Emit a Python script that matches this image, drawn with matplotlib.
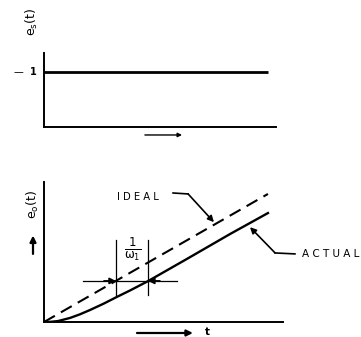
import numpy as np
from matplotlib import pyplot as plt

plt.rcParams['font.family'] = 'DejaVu Sans'
plt.rcParams['mathtext.default'] = 'regular'
plt.rcParams['lines.scale_dashes'] = False

# input step e_s(t)
step_t = [0, 9.66]
step_e = [1, 1]

# output e_o(t): ideal ramp and the lagging actual response
ideal_t = [0, 9.37]
ideal_e = [0, 5.36]
actual_t = [0, 0.3, 0.59, 1.09, 1.5, 1.92, 2.5, 3.05, 3.6, 4.35, 5.98, 7.78, 9.37]
actual_e = [0, 0.01, 0.04, 0.17, 0.32, 0.50, 0.77, 1.05, 1.32, 1.71, 2.64, 3.68, 4.56]

# time lag 1/w1 between the two curves
lag_level = 1.72
lag_t0 = 3.01
lag_t1 = 4.35

W, H = 361, 337
fig = plt.figure(figsize=(W / 100, H / 100), dpi=100)


def box(x0, y0, x1, y1):
    # pixel box (top-left origin) -> figure fraction
    return [x0 / W, 1 - y1 / H, (x1 - x0) / W, (y1 - y0) / H]


def bare(ax):
    for s in ['top', 'right']:
        ax.spines[s].set_visible(False)
    for s in ['left', 'bottom']:
        ax.spines[s].set_linewidth(1.4)
    ax.set_xticks([])
    ax.set_yticks([])
    ax.patch.set_alpha(0)


arw = dict(arrowstyle='-|>', color='k', lw=1.2, mutation_scale=9,
           shrinkA=0, shrinkB=0)

# ---- top: step input
ax1 = fig.add_axes(box(44, 53, 276, 127))
bare(ax1)
ax1.set_xlim(0, 10)
ax1.set_ylim(0, 1.345)
ax1.plot(step_t, step_e, color='k', lw=2.0, solid_capstyle='butt')
ax1.text(-0.52, 1.91, '$e_s(t)$', rotation=90, ha='center', va='center',
         fontsize=9, clip_on=False)
ax1.text(-1.12, 1.0, '\u2014', ha='center', va='center', fontsize=7)
ax1.text(-0.47, 1.0, '1', ha='center', va='center', fontsize=7,
         fontweight='bold')
ax1.annotate('', xy=(5.95, -0.145), xytext=(4.35, -0.145),
             xycoords='data', annotation_clip=False,
             arrowprops=dict(arw, lw=1.0, mutation_scale=6))

# ---- bottom: ramp output
ax2 = fig.add_axes(box(44, 182, 283, 322))
bare(ax2)
ax2.set_xlim(0, 10)
ax2.set_ylim(0, 5.86)
ax2.plot(ideal_t, ideal_e, color='k', lw=1.5, dashes=(9, 5))
ax2.plot(actual_t, actual_e, color='k', lw=1.7)

# lag markers
ax2.plot([1.63, 5.56], [lag_level, lag_level], color='k', lw=0.9)
ax2.plot([lag_t0, lag_t0], [1.13, 3.43], color='k', lw=0.9)
ax2.plot([lag_t1, lag_t1], [1.13, 3.43], color='k', lw=0.9)
ax2.annotate('', xy=(lag_t0, lag_level), xytext=(lag_t0 - 0.5, lag_level),
             arrowprops=arw)
ax2.annotate('', xy=(lag_t1, lag_level), xytext=(lag_t1 + 0.5, lag_level),
             arrowprops=arw)
ax2.text((lag_t0 + lag_t1) / 2 + 0.05, 3.05, r'$\frac{1}{\omega_1}$',
         ha='center', va='center', fontsize=12)

# curve labels
ax2.text(3.05, 5.23, 'I D E A L', ha='left', va='center', fontsize=7.2)
ax2.plot([5.40, 6.03], [5.40, 5.36], color='k', lw=1.2, clip_on=False)
ax2.annotate('', xy=(7.11, 4.18), xytext=(6.03, 5.36), arrowprops=arw,
             annotation_clip=False)
ax2.text(10.79, 2.85, 'A C T U A L', ha='left', va='center', fontsize=7.5,
         clip_on=False)
ax2.plot([10.50, 9.67], [2.85, 2.89], color='k', lw=1.2, clip_on=False)
ax2.annotate('', xy=(8.62, 3.97), xytext=(9.67, 2.89), arrowprops=arw,
             annotation_clip=False)

# axis labels
ax2.text(-0.46, 4.90, '$e_o(t)$', rotation=90, ha='center', va='center',
         fontsize=9, clip_on=False)
ax2.annotate('', xy=(-0.46, 3.62), xytext=(-0.46, 2.85),
             annotation_clip=False, arrowprops=dict(arw, lw=1.6))
ax2.annotate('', xy=(6.23, -0.46), xytext=(3.89, -0.46),
             annotation_clip=False, arrowprops=dict(arw, lw=1.6))
ax2.text(6.82, -0.40, 't', ha='center', va='center', fontsize=7.5,
         fontweight='bold', clip_on=False)

fig.savefig('out.png', dpi=100)
